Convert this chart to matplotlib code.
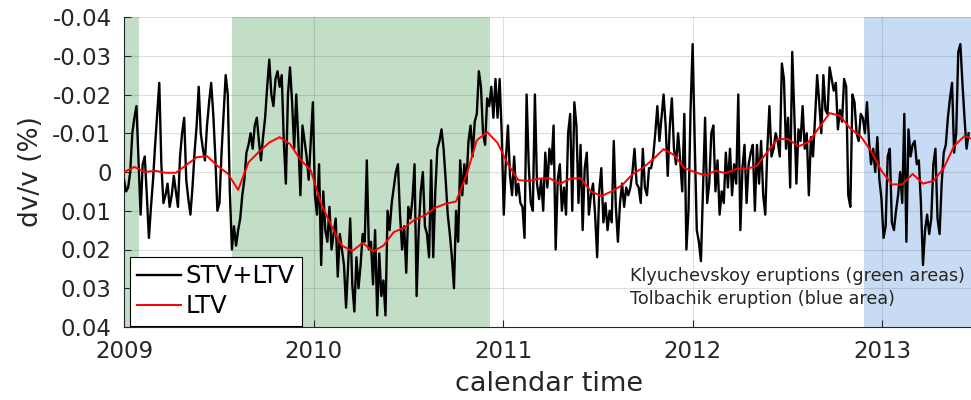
import numpy as np
import matplotlib
matplotlib.use("Agg")
import matplotlib.pyplot as plt

plt.rcParams['font.family'] = ['DejaVu Sans']

# Daily-stacked seismic velocity change, sampled every 4 days from 2009-01-01
# (values in thousandths of a percent)
start_year = 2009.0
stv_step_days = 4
stv_ltv_milli = [
    2, 5, 4, 0, -10, -14, -17, -3, 11, -2,
    -4, 6, 17, 9, 2, -7, -15, -23, -2, 8,
    6, 3, 9, 6, 1, 5, 9, -4, -10, -14,
    2, 7, 11, 4, -5, -12, -22, -10, -6, -3,
    -12, -18, -23, -15, -4, 10, 8, -5, -15, -25,
    -20, 5, 20, 14, 19, 15, 12, 6, 2, -5,
    -7, -10, -6, -12, -14, -8, -3, -9, -14, -22,
    -29, -20, -17, -24, -26, -22, -25, -8, 3, -20,
    -27, -18, -6, -20, -8, 6, -12, -8, -4, 2,
    -8, -18, 6, 11, -2, 24, 5, 15, 18, 9,
    20, 16, 12, 27, 16, 20, 24, 35, 24, 12,
    29, 36, 22, 30, 24, 16, 18, -3, 20, 18,
    29, 15, 37, 21, 32, 28, 37, 10, 15, 8,
    4, 0, -2, 11, 20, 14, 26, 9, 12, 7,
    -2, 32, 15, 5, 0, 14, 16, 22, -3, 22,
    5, -6, -8, -11, -6, 2, 11, 16, 22, 30,
    10, 18, -3, 6, -2, 3, -8, -12, -4, -13,
    -15, -26, -22, -10, -7, -19, -17, -22, -14, -24,
    -14, -24, -10, 11, -3, -12, 1, 6, -4, 6,
    3, 8, 9, 17, -20, -2, 8, 10, -20, 3,
    7, 2, 10, -5, 4, -6, -2, -12, 20, 2,
    -2, 10, 4, 11, -10, -15, 10, -18, -12, 8,
    -7, 15, -1, -5, 11, 6, 3, 11, 22, 5,
    -1, 13, 8, 15, 10, 13, -8, 9, 18, 8,
    3, 9, 4, 6, 4, 0, -6, 3, 4, 8,
    -6, 4, 6, -1, -1, -4, -10, -17, -8, -14,
    -20, -12, 1, -12, -19, -6, -2, -10, -3, 5,
    -15, 20, 10, -16, -33, -8, 15, 18, 23, 4,
    -14, 8, 3, -10, -12, 5, -3, 11, 5, 8,
    -5, 4, -6, 6, -2, 3, -20, 15, -1, -7,
    8, -2, -5, -7, 10, -7, 3, -8, 6, 11,
    -6, -17, -4, -6, -10, -8, -4, -28, -24, -6,
    -14, 4, -31, -15, 3, -11, -8, -17, -6, -10,
    6, -9, -4, -14, -25, -18, -10, -25, -16, -15,
    -27, -24, -21, -23, -11, -16, -13, -24, -22, 6,
    9, -20, -18, -10, -8, -15, -14, -10, -18, -8,
    -2, -6, 0, -9, 2, 7, 17, 14, -4, -6,
    13, 15, 10, 6, 0, 8, -15, 18, -11, -4,
    -7, -8, -2, -3, 8, 24, 15, 11, 16, 12,
    -2, -6, 12, 16, 3, -5, -7, -14, -19, -23,
    -5, -10, -31, -33, -23, -14, -6, -10,
]

# Long-term variation, sampled every 20 days (thousandths of a percent)
ltv_step_days = 20
ltv_milli = [
    0, -1.3, 0, -0.3, 0.2, 0.2, -1.8, -3.8, -4.1, -1.6,
    0.4, 4.6, -2.5, -5.2, -7.6, -9.0, -7.2, -3.2, -0.4, 8.2,
    14, 19, 20.4, 18.3, 20.5, 19, 15.5, 14.4, 12.3, 11.2,
    9.2, 8.2, 7.6, 0.8, -8.2, -10.3, -7.5, -2, 2.1, 2.3,
    1.7, 1.6, 3.1, 1.7, 1.6, 5, 6.2, 5, 3.4, 0.6,
    -1.1, -3.3, -5.9, -4.4, -1.0, 0, 0.9, -0.3, 0.3, -0.8,
    -0.8, -1.6, -5.2, -8.5, -8.5, -6.6, -7.8, -11.5, -15.2, -14.5,
    -11.2, -9.2, -5.4, -0.3, 3.2, 3.2, 0.5, 3, 2.3, -1,
    -6.7, -9.3, -8.2,
]

# Eruption periods (decimal years)
klyuchevskoy_periods = [(2009.0, 2009.08), (2009.57, 2010.93)]
tolbachik_periods = [(2012.905, 2013.6)]

x_ticks = [2009, 2010, 2011, 2012, 2013]
x_tick_labels = ['2009', '2010', '2011', '2012', '2013']
y_ticks = [-0.04, -0.03, -0.02, -0.01, 0, 0.01, 0.02, 0.03, 0.04]
y_tick_labels = ['-0.04', '-0.03', '-0.02', '-0.01', '0', '0.01', '0.02', '0.03', '0.04']

t_stv = start_year + np.arange(len(stv_ltv_milli)) * stv_step_days / 365.25
t_ltv = start_year + np.arange(len(ltv_milli)) * ltv_step_days / 365.25
stv = np.array(stv_ltv_milli) / 1000.0
ltv = np.array(ltv_milli) / 1000.0

W, H = 971, 400
fig = plt.figure(figsize=(W / 100, H / 100), dpi=100)
ax = fig.add_axes([124 / W, (H - 327) / H, (975 - 124) / W, (327 - 17) / H])

for a, b in klyuchevskoy_periods:
    ax.axvspan(a, b, color='#c3dec6', lw=0, zorder=0.5)
for a, b in tolbachik_periods:
    ax.axvspan(a, b, color='#c7dcf4', lw=0, zorder=0.5)

ax.plot(t_stv, stv, color='black', lw=1.7, label='STV+LTV', zorder=3)
ax.plot(t_ltv, ltv, color='#ff0000', lw=1.4, label='LTV', zorder=4)

ax.set_xlim(2009.0, 2009.0 + (975 - 124) / 189.5)
ax.set_ylim(0.04, -0.04)
ax.set_xticks(x_ticks)
ax.set_xticklabels(x_tick_labels)
ax.set_yticks(y_ticks)
ax.set_yticklabels(y_tick_labels)

ax.set_axisbelow('line')
ax.grid(True, color='#262626', alpha=0.15, lw=0.8)
ax.tick_params(direction='in', length=5, width=0.8, colors='#262626',
               labelsize=16.5, top=False, right=False)
ax.tick_params(axis='x', pad=9)
ax.tick_params(axis='y', pad=9)
for side in ('top', 'right'):
    ax.spines[side].set_visible(False)
for side in ('left', 'bottom'):
    ax.spines[side].set_color('#262626')
    ax.spines[side].set_linewidth(0.8)

ax.set_ylabel('dv/v (%)', fontsize=19, color='#262626', labelpad=6)
ax.set_xlabel('calendar time', fontsize=19.5, color='#262626', labelpad=6)

ax.text(2011.67, 0.0299, 'Klyuchevskoy eruptions (green areas)\nTolbachik eruption (blue area)',
        fontsize=12.7, color='#262626', va='center', ha='left', linespacing=1.35, zorder=5)

leg = ax.legend(loc='lower left', bbox_to_anchor=(0.007, 0.004), fontsize=17.5,
                handlelength=1.8, handletextpad=0.2, labelspacing=0.25,
                borderpad=0.3, borderaxespad=0.0, fancybox=False,
                edgecolor='black', framealpha=1)
leg.get_frame().set_linewidth(0.8)

fig.savefig('out.png', dpi=100)
